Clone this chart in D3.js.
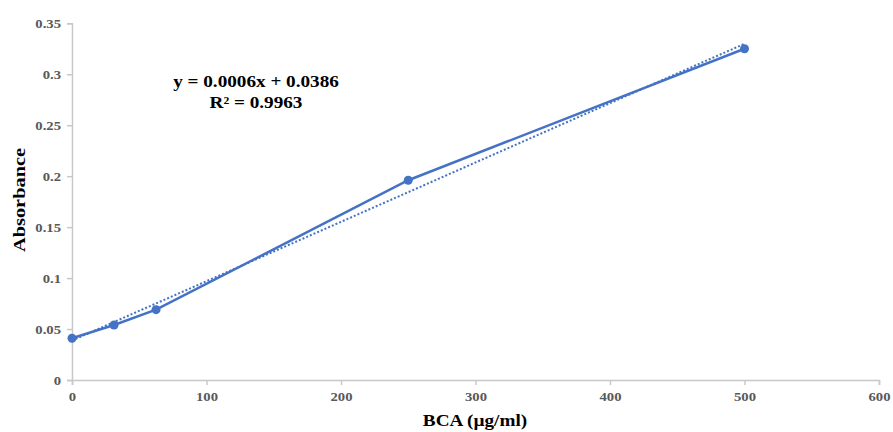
<!DOCTYPE html>
<html>
<head>
<meta charset="utf-8">
<script src="https://cdn.jsdelivr.net/npm/d3@7"></script>
<style>
  html, body { margin: 0; padding: 0; background: #fff; }
  svg { display: block; }
  text { font-family: "Liberation Serif", "Times New Roman", serif; font-weight: bold; }
</style>
</head>
<body>
<svg id="chart" width="893" height="432"></svg>
<script>
// BCA standard curve: concentration (µg/ml) vs absorbance
const concentrations = [0, 31.25, 62.5, 250, 500];
const absorbances = [0.041, 0.054, 0.069, 0.196, 0.325];
const xTicks = [0, 100, 200, 300, 400, 500, 600];
const yTicks = [0, 0.05, 0.1, 0.15, 0.2, 0.25, 0.3, 0.35];
const equationLines = ["y = 0.0006x + 0.0386", "R² = 0.9963"];

const svg = d3.select("#chart");
const x = d3.scaleLinear().domain([0, 600]).range([72, 879]);
const y = d3.scaleLinear().domain([0, 0.35]).range([380, 23.3]);

const axisColor = "#c8c8c8";
const tickText = "#595959";
const blue = "#4472C4";
const widen = 1.2;      // horizontal widening of titles/labels
const tickWiden = 1.13;

// X axis
const gx = svg.append("g").attr("transform", `translate(0,${y(0)})`)
  .call(d3.axisBottom(x).tickValues(xTicks).tickSize(5).tickPadding(7).tickFormat(d3.format("d")));
gx.select(".domain").attr("stroke", axisColor).attr("stroke-width", 1.5);
gx.selectAll(".tick line").attr("stroke", axisColor).attr("stroke-width", 1.5);
gx.selectAll(".tick text").attr("fill", tickText).attr("font-size", 13)
  .attr("transform", `scale(${tickWiden},1)`);

// Y axis
const gy = svg.append("g").attr("transform", `translate(${x(0)},0)`)
  .call(d3.axisLeft(y).tickValues(yTicks).tickSize(5).tickPadding(6).tickFormat(d => d === 0 ? "0" : String(+d.toFixed(2))));
gy.select(".domain").attr("stroke", axisColor).attr("stroke-width", 1.5);
gy.selectAll(".tick line").attr("stroke", axisColor).attr("stroke-width", 1.5);
gy.selectAll(".tick text").attr("fill", tickText).attr("font-size", 13)
  .attr("x", 0).attr("transform", `translate(-11,0) scale(${tickWiden},1)`);

// Least-squares trendline
const n = concentrations.length;
const mx = d3.mean(concentrations), my = d3.mean(absorbances);
let sxy = 0, sxx = 0;
for (let i = 0; i < n; i++) {
  sxy += (concentrations[i] - mx) * (absorbances[i] - my);
  sxx += (concentrations[i] - mx) ** 2;
}
const slope = sxy / sxx, intercept = my - slope * mx;
const xMin = d3.min(concentrations), xMax = d3.max(concentrations);
svg.append("line")
  .attr("x1", x(xMin)).attr("y1", y(intercept + slope * xMin))
  .attr("x2", x(xMax)).attr("y2", y(intercept + slope * xMax))
  .attr("stroke", blue).attr("stroke-width", 2).attr("stroke-dasharray", "2,2");

// Data line
const pts = concentrations.map((c, i) => [c, absorbances[i]]);
svg.append("path")
  .datum(pts)
  .attr("fill", "none").attr("stroke", blue).attr("stroke-width", 2.5)
  .attr("d", d3.line().x(d => x(d[0])).y(d => y(d[1])));

svg.selectAll("circle.pt").data(pts).join("circle")
  .attr("class", "pt")
  .attr("cx", d => x(d[0])).attr("cy", d => y(d[1])).attr("r", 4.5)
  .attr("fill", blue);

// Equation
svg.selectAll("text.eq").data(equationLines).join("text")
  .attr("class", "eq")
  .attr("transform", (d, i) => `translate(256,${87 + i * 21}) scale(${widen},1)`)
  .attr("text-anchor", "middle").attr("font-size", 16).attr("fill", "#000")
  .text(d => d);

// Axis titles
svg.append("text")
  .attr("transform", `translate(475,426) scale(${widen},1)`).attr("text-anchor", "middle")
  .attr("font-size", 16).attr("fill", "#000").text("BCA (µg/ml)");
svg.append("text")
  .attr("transform", `translate(25,200) rotate(-90) scale(${widen * 1.03},1)`).attr("text-anchor", "middle")
  .attr("font-size", 16.5).attr("fill", "#000").text("Absorbance");
</script>
</body>
</html>
